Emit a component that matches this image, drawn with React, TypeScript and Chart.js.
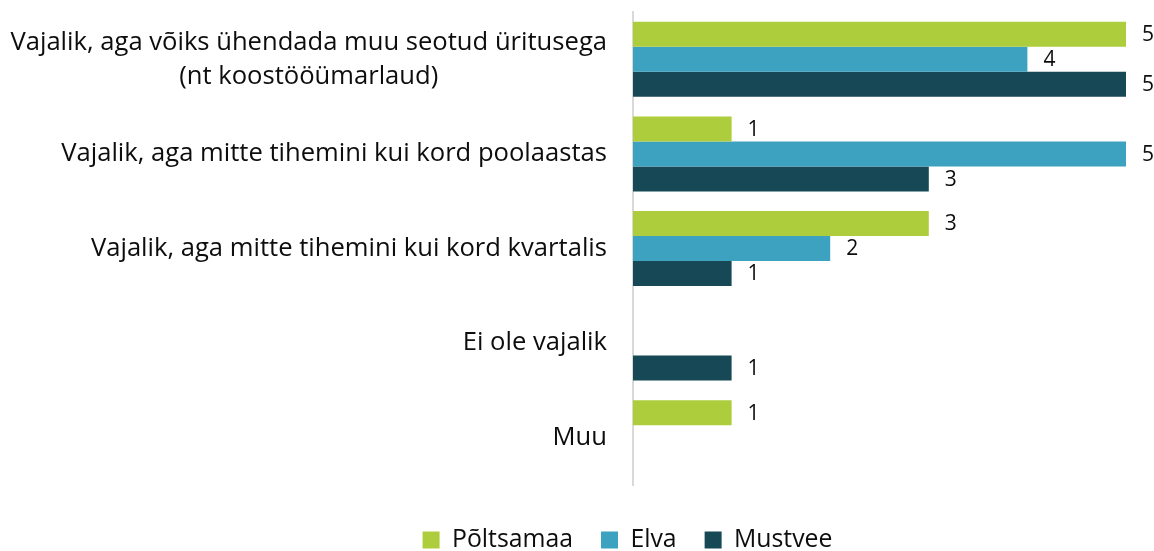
import React, { useEffect, useRef } from "react";
import { Chart, registerables } from "chart.js";
Chart.register(...registerables);

const categories: string[][] = [
  ["Vajalik, aga võiks ühendada muu seotud üritusega", "(nt koostööümarlaud)"],
  ["Vajalik, aga mitte tihemini kui kord poolaastas"],
  ["Vajalik, aga mitte tihemini kui kord kvartalis"],
  ["Ei ole vajalik"],
  ["Muu"],
];
const seriesNames: string[] = ["Põltsamaa", "Elva", "Mustvee"];
const poltsamaa: (number | null)[] = [5, 1, 3, null, 1];
const elva: (number | null)[] = [4, 5, 2, null, null];
const mustvee: (number | null)[] = [5, 3, 1, 1, null];
const colors: string[] = ["#ADCD3C", "#3CA2C0", "#164855"];

const FONT = "'Open Sans', sans-serif";
const TEXT = "#0D0D0D";

const categoryLabelsPlugin = {
  id: "categoryLabels",
  afterDraw(chart: any) {
    const ctx = chart.ctx;
    const y = chart.scales.y;
    const right = 607;
    const lineH = 34;
    ctx.save();
    ctx.font = `25.6px ${FONT}`;
    ctx.fillStyle = TEXT;
    ctx.textBaseline = "middle";
    ctx.textAlign = "center";
    (chart.data.labels as string[][]).forEach((lines, i) => {
      const cy = y.getPixelForValue(i);
      const w = Math.max(...lines.map((l) => ctx.measureText(l).width));
      const cx = right - w / 2;
      lines.forEach((l, j) => {
        ctx.fillText(l, cx, cy + (j - (lines.length - 1) / 2) * lineH);
      });
    });
    ctx.restore();
  },
};

const valueLabelsPlugin = {
  id: "valueLabels",
  afterDatasetsDraw(chart: any) {
    const ctx = chart.ctx;
    ctx.save();
    ctx.font = `21px ${FONT}`;
    ctx.fillStyle = TEXT;
    ctx.textBaseline = "middle";
    ctx.textAlign = "left";
    chart.data.datasets.forEach((ds: any, di: number) => {
      const meta = chart.getDatasetMeta(di);
      meta.data.forEach((el: any, i: number) => {
        const v = ds.data[i];
        if (v === null || v === undefined) return;
        ctx.fillText(String(v), el.x + 16, el.y + 1);
      });
    });
    ctx.restore();
  },
};

export default function App() {
  const ref = useRef<HTMLCanvasElement>(null);
  useEffect(() => {
    const chart = new Chart(ref.current!, {
      type: "bar",
      data: {
        labels: categories,
        datasets: [poltsamaa, elva, mustvee].map((d, i) => ({
          label: seriesNames[i],
          data: d,
          backgroundColor: colors[i],
          borderWidth: 0,
          categoryPercentage: 0.793,
          barPercentage: 1,
        })),
      },
      options: {
        indexAxis: "y",
        animation: false,
        responsive: true,
        maintainAspectRatio: false,
        layout: { padding: { top: 12, right: 28, left: 129, bottom: -11.4 } },
        plugins: {
          tooltip: { enabled: false },
          legend: {
            position: "bottom",
            align: "center",
            labels: {
              boxWidth: 17,
              boxHeight: 17,
              padding: 28,
              color: TEXT,
              font: { family: FONT, size: 24.8 },
            },
          },
        },
        scales: {
          x: {
            display: true,
            min: 0,
            max: 5,
            grid: { display: false },
            border: { display: false },
            ticks: { display: false },
            afterFit: (s: any) => {
              s.height = 14.6;
            },
          },
          y: {
            grid: { display: true, drawOnChartArea: false, drawTicks: false, color: "transparent" },
            border: { display: true, color: "#D9D9D9", width: 2 },
            ticks: { display: false },
            afterFit: (s: any) => {
              s.width = 633 - 129;
            },
          },
        },
      },
      plugins: [categoryLabelsPlugin, valueLabelsPlugin],
    });
    return () => chart.destroy();
  }, []);
  return (
    <div style={{ position: "fixed", left: 0, top: 0, width: 1154, height: 551 }}>
      <canvas ref={ref} />
    </div>
  );
}
